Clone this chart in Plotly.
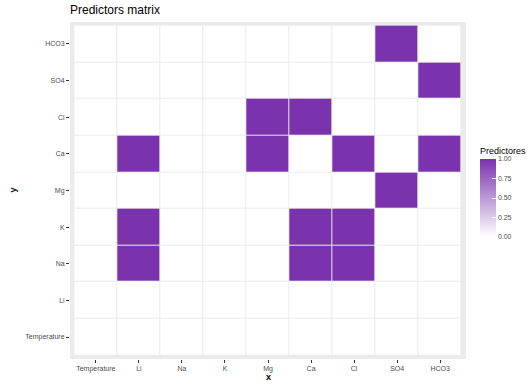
import plotly.graph_objects as go

# Variables used as both predictors (x) and responses (y)
variables = ["Temperature", "Li", "Na", "K", "Mg", "Ca", "Cl", "SO4", "HCO3"]

# Predictor indicator per response row (1 = predictor used), rows bottom to top
row_temperature = [0, 0, 0, 0, 0, 0, 0, 0, 0]
row_li          = [0, 0, 0, 0, 0, 0, 0, 0, 0]
row_na          = [0, 1, 0, 0, 0, 1, 1, 0, 0]
row_k           = [0, 1, 0, 0, 0, 1, 1, 0, 0]
row_mg          = [0, 0, 0, 0, 0, 0, 0, 1, 0]
row_ca          = [0, 1, 0, 0, 1, 0, 1, 0, 1]
row_cl          = [0, 0, 0, 0, 1, 1, 0, 0, 0]
row_so4         = [0, 0, 0, 0, 0, 0, 0, 0, 1]
row_hco3        = [0, 0, 0, 0, 0, 0, 0, 1, 0]

z = [row_temperature, row_li, row_na, row_k, row_mg, row_ca, row_cl, row_so4, row_hco3]

colorbar_ticks = [0.0, 0.25, 0.5, 0.75, 1.0]
purple = "#7A32AD"
font_family = "Liberation Sans, Arial, sans-serif"

W, H = 530, 384
L, R, T, B = 70, 64, 22, 25

fig = go.Figure(go.Heatmap(
    x=variables,
    y=variables,
    z=z,
    zmin=0,
    zmax=1,
    colorscale=[[0, "#FFFFFF"], [1, purple]],
    xgap=1,
    ygap=1,
    colorbar=dict(
        title=dict(text="Predictores", side="top", font=dict(size=9, color="#000000")),
        x=(480 - L) / (W - L - R), xanchor="left",
        y=(H - B - 237) / (H - T - B), yanchor="bottom",
        len=93, lenmode="pixels",
        thickness=16, thicknessmode="pixels",
        outlinewidth=0,
        tickvals=colorbar_ticks,
        ticktext=[f"{v:.2f}" for v in colorbar_ticks],
        ticks="inside", ticklen=4, tickcolor="#FFFFFF",
        tickfont=dict(size=7, color="#4D4D4D"),
        xpad=0, ypad=0,
    ),
))

axis_common = dict(
    type="category",
    categoryorder="array",
    categoryarray=variables,
    range=[-0.6, 8.6],
    automargin=False,
    showgrid=False,
    zeroline=False,
    showline=False,
    ticks="outside",
    ticklen=3,
    tickwidth=1,
    tickcolor="#333333",
    tickfont=dict(size=7, color="#4D4D4D", family=font_family),
)

fig.update_layout(
    width=W,
    height=H,
    margin=dict(l=L, r=R, t=T, b=B, autoexpand=False),
    paper_bgcolor="#FFFFFF",
    plot_bgcolor="#EBEBEB",
    font=dict(family=font_family, color="#000000"),
    title=dict(text="Predictors matrix", x=L / W, xanchor="left",
               y=1 - 10 / H, yanchor="middle", font=dict(size=12)),
    xaxis=axis_common,
    yaxis=axis_common,
    annotations=[
        dict(text="<b>x</b>", xref="paper", yref="paper", x=0.5, y=-(377 - (H - B)) / (H - T - B),
             xanchor="center", yanchor="middle", showarrow=False, font=dict(size=9)),
        dict(text="<b>y</b>", xref="paper", yref="paper", x=-(L - 12) / (W - L - R), y=0.5,
             xanchor="center", yanchor="middle", showarrow=False, textangle=-90, font=dict(size=9)),
    ],
)

fig.write_html("out.html")
